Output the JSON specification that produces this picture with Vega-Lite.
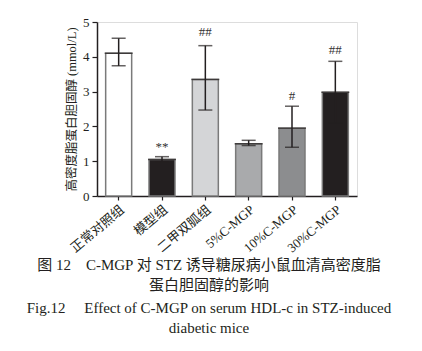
{
  "$schema": "https://vega.github.io/schema/vega-lite/v6.json",
  "width": 260,
  "height": 174,
  "autosize": "none",
  "padding": {"left": 97, "top": 22, "right": 65, "bottom": 155},
  "background": "white",
  "config": {
    "axisY": {
      "grid": false,
      "titleFont": "Liberation Serif, Noto Sans CJK SC",
      "titleFontSize": 12.5,
      "titleFontWeight": "normal",
      "titleColor": "#231f20",
      "titlePadding": 4,
      "labelFont": "Liberation Serif",
      "labelFontSize": 13,
      "labelColor": "#231f20",
      "labelPadding": 3,
      "domainColor": "#231f20",
      "domainWidth": 1.5,
      "tickColor": "#231f20",
      "tickWidth": 1.2,
      "tickSize": 5
    }
  },
  "title": {
    "text": ["图 12　C-MGP 对 STZ 诱导糖尿病小鼠血清高密度脂", "蛋白胆固醇的影响"],
    "subtitle": ["Fig.12　 Effect of C-MGP on serum HDL-c in STZ-induced", "diabetic mice"],
    "orient": "bottom",
    "anchor": "middle",
    "dx": -18,
    "offset": 3,
    "font": "Liberation Serif, Noto Sans CJK SC",
    "fontSize": 15,
    "fontWeight": "normal",
    "color": "#231f20",
    "lineHeight": 20,
    "subtitleFont": "Liberation Serif, Noto Sans CJK SC",
    "subtitleFontSize": 15,
    "subtitleColor": "#231f20",
    "subtitleLineHeight": 20,
    "subtitlePadding": 8
  },
  "data": {
    "values": [
      {"group": "正常对照组", "value": 4.1, "lo": 3.74, "hi": 4.53, "ann": "", "ann_y": 0},
      {"group": "模型组", "value": 1.05, "lo": 0.98, "hi": 1.13, "ann": "**", "ann_y": 1.3},
      {"group": "二甲双胍组", "value": 3.35, "lo": 2.47, "hi": 4.32, "ann": "##", "ann_y": 4.6},
      {"group": "5%C-MGP", "value": 1.5, "lo": 1.45, "hi": 1.6, "ann": "", "ann_y": 0},
      {"group": "10%C-MGP", "value": 1.95, "lo": 1.4, "hi": 2.58, "ann": "#", "ann_y": 2.76},
      {"group": "30%C-MGP", "value": 2.98, "lo": 2.1, "hi": 3.87, "ann": "##", "ann_y": 4.07}
    ]
  },
  "encoding": {
    "x": {
      "field": "group",
      "type": "nominal",
      "sort": null,
      "scale": {"paddingInner": 0.4, "paddingOuter": 0.2},
      "axis": {
        "title": null,
        "labelAngle": -40,
        "labelAlign": "right",
        "labelBaseline": "top",
        "labelFont": "Liberation Serif, Noto Sans CJK SC",
        "labelFontSize": 13,
        "labelColor": "#231f20",
        "labelPadding": 3,
        "domainColor": "#231f20",
        "domainWidth": 1.5,
        "tickColor": "#231f20",
        "tickWidth": 1.2,
        "tickSize": 4
      }
    }
  },
  "layer": [
    {
      "mark": {"type": "bar", "stroke": "#7a7a7a", "strokeWidth": 1.5},
      "encoding": {
        "y": {
          "field": "value",
          "type": "quantitative",
          "scale": {"domain": [0, 5]},
          "axis": {"title": "高密度脂蛋白胆固醇 (mmol/L)", "values": [0, 1, 2, 3, 4, 5]}
        },
        "fill": {
          "field": "group",
          "type": "nominal",
          "sort": null,
          "legend": null,
          "scale": {"range": ["#ffffff", "#231f20", "#d4d5d7", "#a9aaac", "#8c8d8f", "#231f20"]}
        }
      }
    },
    {
      "mark": {"type": "rule", "color": "#231f20", "strokeWidth": 1.5},
      "encoding": {
        "y": {"field": "lo", "type": "quantitative", "axis": {"title": "高密度脂蛋白胆固醇 (mmol/L)", "values": [0, 1, 2, 3, 4, 5]}},
        "y2": {"field": "hi"}
      }
    },
    {
      "mark": {"type": "tick", "color": "#231f20", "thickness": 1.5, "size": 14},
      "encoding": {"y": {"field": "hi", "type": "quantitative", "axis": {"title": "高密度脂蛋白胆固醇 (mmol/L)", "values": [0, 1, 2, 3, 4, 5]}}}
    },
    {
      "mark": {"type": "tick", "color": "#231f20", "thickness": 1.5, "size": 14},
      "encoding": {"y": {"field": "lo", "type": "quantitative", "axis": {"title": "高密度脂蛋白胆固醇 (mmol/L)", "values": [0, 1, 2, 3, 4, 5]}}}
    },
    {
      "mark": {"type": "tick", "color": "#231f20", "thickness": 1.5, "size": 28},
      "encoding": {"y": {"field": "value", "type": "quantitative", "axis": {"title": "高密度脂蛋白胆固醇 (mmol/L)", "values": [0, 1, 2, 3, 4, 5]}}}
    },
    {
      "mark": {"type": "text", "font": "Liberation Serif", "fontSize": 13, "color": "#333333", "baseline": "alphabetic"},
      "encoding": {
        "y": {"field": "ann_y", "type": "quantitative", "axis": {"title": "高密度脂蛋白胆固醇 (mmol/L)", "values": [0, 1, 2, 3, 4, 5]}},
        "text": {"field": "ann"}
      }
    }
  ]
}
